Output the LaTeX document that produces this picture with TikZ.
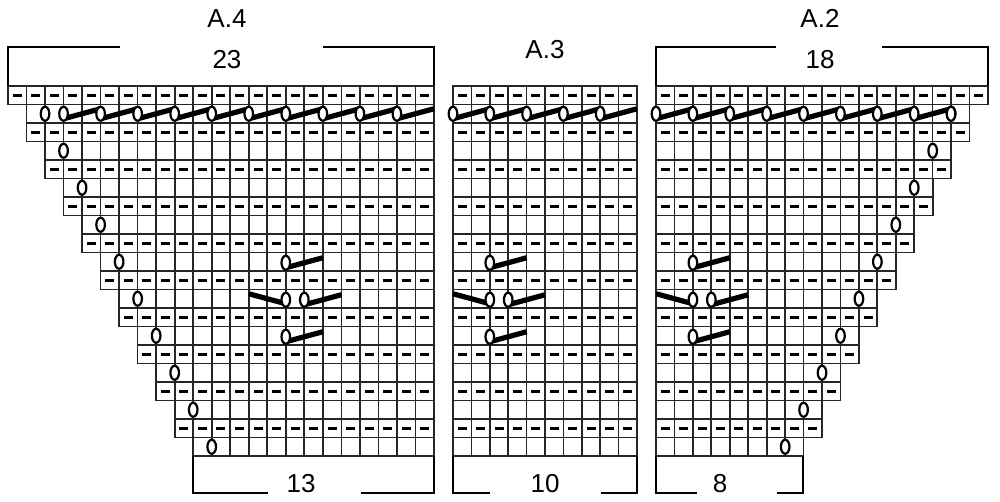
\documentclass[tikz,border=0pt]{standalone}
\usepackage{fontspec}
\setmainfont{Liberation Sans}
\begin{document}
\begin{tikzpicture}[x=0.5pt,y=-0.5pt,font=\fontsize{13}{15}\selectfont,
  gridline/.style={line width=0.85pt,black!85},
  dashmark/.style={fill=black},
  yarnover/.style={line width=1.1pt,fill=white},
  slipbar/.style={line width=2.6pt,line cap=butt},
  frame/.style={line width=1pt},
  label/.style={inner sep=0pt,anchor=center}]
\useasboundingbox (0,0) rectangle (1000,502);

% one row: \chartrow{left}{right}{top}{width}{row}
\newcommand{\chartrow}[5]{%
  \draw[gridline] (#1,#3) rectangle (#2,#3+18.5);
  \pgfmathtruncatemacro\ncell{round((#2-#1)/#4)}
  \foreach \c in {1,...,\ncell} {\draw[gridline] (#1+\c*#4,#3) -- (#1+\c*#4,#3+18.5);}
  \ifodd#5\else
    \pgfmathtruncatemacro\nlast{\ncell-1}
    \foreach \c in {0,...,\nlast} {\fill[dashmark] (#1+\c*#4+#4/2-4.5,#3+7.6) rectangle (#1+\c*#4+#4/2+4.5,#3+11);}
  \fi}
\newcommand{\yo}[2]{\draw[yarnover] (#1,#2) ellipse (4.3 and 7);}
\newcommand{\barright}[3]{\draw[slipbar] (#1,#2+5) -- (#1+#3,#2-5);}
\newcommand{\barleft}[3]{\draw[slipbar] (#1-#3,#2-6) -- (#1,#2+4);}
% motif: \motif{line x}{cell width}
\newcommand{\motif}[2]{%
  \barright{#1}{262.75}{2*#2}\yo{#1}{262.75}
  \barleft{#1}{299.75}{2*#2}\yo{#1}{299.75}
  \barright{#1+#2}{299.75}{2*#2}\yo{#1+#2}{299.75}
  \barright{#1}{336.75}{2*#2}\yo{#1}{336.75}}

% A.4
\foreach \r in {0,...,19} {
  \pgfmathtruncatemacro\k{ceil(\r/2)}
  \pgfmathsetmacro\xs{8+18.52*\k}
  \pgfmathsetmacro\yt{86+18.5*\r}
  \chartrow{\xs}{434}{\yt}{18.52}{\r}
  \ifodd\r \yo{\xs+18.52}{\yt+9.25}\fi
}
\foreach \j in {0,...,9} {\barright{63.56+37.04*\j}{113.75}{37.04}\yo{63.56+37.04*\j}{113.75}}
\motif{285.8}{18.52}

% A.3
\foreach \r in {0,...,19} {
  \pgfmathsetmacro\yt{86+18.5*\r}
  \chartrow{453}{637}{\yt}{18.4}{\r}
}
\foreach \j in {0,...,4} {\barright{453+36.8*\j}{113.75}{36.8}\yo{453+36.8*\j}{113.75}}
\motif{489.8}{18.4}

% A.2
\foreach \r in {0,...,19} {
  \pgfmathtruncatemacro\k{ceil(\r/2)}
  \pgfmathsetmacro\xe{988-18.44*\k}
  \pgfmathsetmacro\yt{86+18.5*\r}
  \chartrow{656}{\xe}{\yt}{18.44}{\r}
  \ifodd\r \yo{\xe-18.44}{\yt+9.25}\fi
}
\foreach \j in {0,...,7} {\barright{656+36.88*\j}{113.75}{36.88}\yo{656+36.88*\j}{113.75}}
\yo{951}{113.75}
\motif{692.9}{18.44}

% brackets
\draw[frame] (120,47) -- (8,47) -- (8,86);
\draw[frame] (323,47) -- (434,47) -- (434,86);
\draw[frame] (776,47) -- (656,47) -- (656,86);
\draw[frame] (882,47) -- (988,47) -- (988,86);
\draw[frame] (193,456) -- (193,493) -- (268,493);
\draw[frame] (361,493) -- (434,493) -- (434,456);
\draw[frame] (453,456) -- (453,493) -- (490,493);
\draw[frame] (601,493) -- (637,493) -- (637,456);
\draw[frame] (656,456) -- (656,493) -- (697,493);
\draw[frame] (777,493) -- (803,493) -- (803,456);

% labels
\node[label] (titleA4) at (227,19) {A.4};
\node[label] (countA4top) at (227,60) {23};
\node[label] (countA4bot) at (301,484) {13};
\node[label] (titleA3) at (545,50) {A.3};
\node[label] (countA3bot) at (545,484) {10};
\node[label] (titleA2) at (820,18) {A.2};
\node[label] (countA2top) at (820,60) {18};
\node[label] (countA2bot) at (720,484) {8};
\end{tikzpicture}
\end{document}
